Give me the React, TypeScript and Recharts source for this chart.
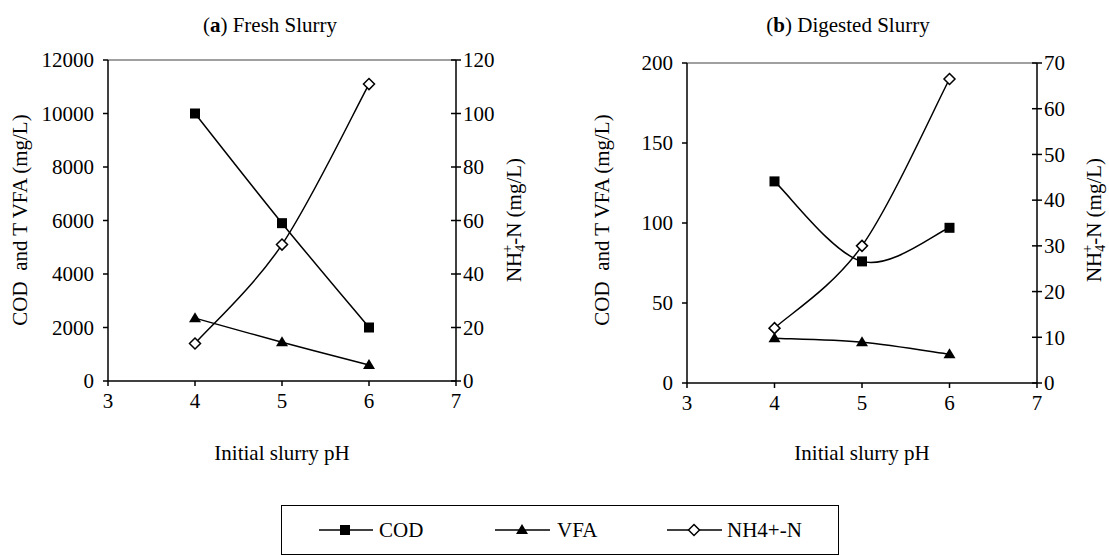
import React from "react"
import { LineChart, Line, XAxis, YAxis, ReferenceLine } from "recharts"

// initial slurry pH (x values)
const phValues = [4, 5, 6]
const phTicks = [3, 4, 5, 6, 7]

// (a) fresh slurry
const freshCod = [10000, 5900, 2000]
const freshVfa = [2350, 1450, 600]
const freshNh4 = [14, 51, 111]
const freshLeftTicks = [0, 2000, 4000, 6000, 8000, 10000, 12000]
const freshRightTicks = [0, 20, 40, 60, 80, 100, 120]

// (b) digested slurry
const digestedCod = [126, 76, 97]
const digestedVfa = [28, 25.5, 18]
const digestedNh4 = [12, 30, 66.5]
const digestedLeftTicks = [0, 50, 100, 150, 200]
const digestedRightTicks = [0, 10, 20, 30, 40, 50, 60, 70]

const freshData = phValues.map((ph, i) => ({ ph, cod: freshCod[i], vfa: freshVfa[i], nh4: freshNh4[i] }))
const digestedData = phValues.map((ph, i) => ({ ph, cod: digestedCod[i], vfa: digestedVfa[i], nh4: digestedNh4[i] }))

const FONT = "Liberation Serif, DejaVu Serif, serif"
const tickStyle = { fill: "#000", fontSize: 21, fontFamily: FONT }

// excel-like smoothed line (catmull-rom style bezier)
function excelSmooth(context: any) {
  let pts: number[][] = []
  return {
    areaStart() {},
    areaEnd() {},
    lineStart() {
      pts = []
    },
    point(x: number, y: number) {
      pts.push([+x, +y])
    },
    lineEnd() {
      const n = pts.length
      if (!n) return
      context.moveTo(pts[0][0], pts[0][1])
      for (let i = 0; i < n - 1; i++) {
        const p0 = pts[Math.max(i - 1, 0)]
        const p1 = pts[i]
        const p2 = pts[i + 1]
        const p3 = pts[Math.min(i + 2, n - 1)]
        context.bezierCurveTo(
          p1[0] + (p2[0] - p0[0]) / 6,
          p1[1] + (p2[1] - p0[1]) / 6,
          p2[0] - (p3[0] - p1[0]) / 6,
          p2[1] - (p3[1] - p1[1]) / 6,
          p2[0],
          p2[1]
        )
      }
    },
  }
}

const SquareDot = (p: any) =>
  p.cx == null ? null : <rect key={p.index} x={p.cx - 5} y={p.cy - 5} width={10} height={10} fill="#000" />

const TriangleDot = (p: any) =>
  p.cx == null ? null : (
    <path key={p.index} d={`M${p.cx},${p.cy - 6} L${p.cx + 6},${p.cy + 4} L${p.cx - 6},${p.cy + 4} Z`} fill="#000" />
  )

const DiamondDot = (p: any) =>
  p.cx == null ? null : (
    <path
      key={p.index}
      d={`M${p.cx},${p.cy - 5.5} L${p.cx + 5.5},${p.cy} L${p.cx},${p.cy + 5.5} L${p.cx - 5.5},${p.cy} Z`}
      fill="#fff"
      stroke="#000"
      strokeWidth={1.5}
    />
  )

// right axis ticks cross the axis line
const RightTick = (p: any) => (
  <g>
    <line x1={p.x - 12} x2={p.x - 7} y1={p.y} y2={p.y} stroke="#000" strokeWidth={1.5} />
    <text x={p.x} y={p.y} dy="0.35em" textAnchor="start" fill="#000" fontSize={21} fontFamily={FONT}>
      {p.payload.value}
    </text>
  </g>
)

function Panel(props: {
  data: any[]
  width: number
  top: number
  leftW: number
  rightW: number
  bottom: number
  leftMax: number
  rightMax: number
  leftTicks: number[]
  rightTicks: number[]
}) {
  const { data, width, top, leftW, rightW, bottom, leftMax, rightMax, leftTicks, rightTicks } = props
  return (
    <LineChart width={width} height={440} data={data} margin={{ top, right: 0, bottom: 0, left: 0 }}>
      <XAxis
        dataKey="ph"
        type="number"
        domain={[3, 7]}
        ticks={phTicks}
        height={bottom}
        tick={tickStyle}
        tickSize={5}
        tickMargin={7}
        stroke="#000"
        strokeWidth={1.5}
      />
      <YAxis
        yAxisId="left"
        domain={[0, leftMax]}
        ticks={leftTicks}
        width={leftW}
        tick={tickStyle}
        tickSize={5}
        tickMargin={9}
        stroke="#000"
        strokeWidth={1.5}
        interval={0}
      />
      <YAxis
        yAxisId="right"
        orientation="right"
        domain={[0, rightMax]}
        ticks={rightTicks}
        width={rightW}
        tick={RightTick}
        tickSize={5}
        tickMargin={2}
        stroke="#000"
        strokeWidth={1.5}
        interval={0}
      />
      <ReferenceLine yAxisId="left" y={leftMax} stroke="#808080" strokeWidth={1.5} />
      <Line yAxisId="left" dataKey="cod" type={excelSmooth as any} stroke="#000" strokeWidth={1.5} dot={SquareDot} isAnimationActive={false} />
      <Line yAxisId="left" dataKey="vfa" type={excelSmooth as any} stroke="#000" strokeWidth={1.5} dot={TriangleDot} isAnimationActive={false} />
      <Line yAxisId="right" dataKey="nh4" type={excelSmooth as any} stroke="#000" strokeWidth={1.5} dot={DiamondDot} isAnimationActive={false} />
    </LineChart>
  )
}

const abs = (left: number, top: number, rotate = false): React.CSSProperties => ({
  position: "absolute",
  left,
  top,
  transform: `translate(-50%, -50%)${rotate ? " rotate(-90deg)" : ""}`,
  whiteSpace: "pre",
  fontSize: 21,
  lineHeight: "24px",
  color: "#000",
})

const Nh4Title = () => (
  <>
    NH<sub style={{ fontSize: 14, verticalAlign: "-4px" }}>4</sub>
    <sup style={{ fontSize: 14, verticalAlign: "9px", marginLeft: -8 }}>+</sup>-N (mg/L)
  </>
)

export default function App() {
  return (
    <div style={{ position: "absolute", left: 0, top: 0, width: 1109, height: 556, background: "#fff", fontFamily: FONT }}>
      <div style={{ position: "absolute", left: 0, top: 0 }}>
        <Panel
          data={freshData}
          width={555}
          top={60}
          leftW={108}
          rightW={99}
          bottom={59}
          leftMax={12000}
          rightMax={120}
          leftTicks={freshLeftTicks}
          rightTicks={freshRightTicks}
        />
      </div>
      <div style={{ position: "absolute", left: 555, top: 0 }}>
        <Panel
          data={digestedData}
          width={554}
          top={63}
          leftW={132}
          rightW={72}
          bottom={57}
          leftMax={200}
          rightMax={70}
          leftTicks={digestedLeftTicks}
          rightTicks={digestedRightTicks}
        />
      </div>

      <div style={abs(270, 25)}>
        (<b>a</b>) Fresh Slurry
      </div>
      <div style={abs(848, 25)}>
        (<b>b</b>) Digested Slurry
      </div>

      <div style={abs(20, 220, true)}>COD  and T VFA (mg/L)</div>
      <div style={abs(514, 220, true)}>
        <Nh4Title />
      </div>
      <div style={abs(602, 220, true)}>COD  and T VFA (mg/L)</div>
      <div style={abs(1094, 220, true)}>
        <Nh4Title />
      </div>

      <div style={abs(282, 453)}>Initial slurry pH</div>
      <div style={abs(862, 453)}>Initial slurry pH</div>

      <div
        style={{
          position: "absolute",
          left: 281,
          top: 505,
          width: 558,
          height: 50,
          border: "1.5px solid #000",
          boxSizing: "border-box",
        }}
      >
        <svg width={555} height={47} style={{ position: "absolute", left: 0, top: 0 }}>
          <line x1={37} x2={91} y1={24} y2={24} stroke="#000" strokeWidth={1.5} />
          <SquareDot cx={63} cy={24} index={0} />
          <text x={97} y={24} dy="0.35em" fontSize={21} fontFamily={FONT} fill="#000">COD</text>
          <line x1={213} x2={268} y1={24} y2={24} stroke="#000" strokeWidth={1.5} />
          <TriangleDot cx={240} cy={24} index={1} />
          <text x={275} y={24} dy="0.35em" fontSize={21} fontFamily={FONT} fill="#000">VFA</text>
          <line x1={385} x2={440} y1={24} y2={24} stroke="#000" strokeWidth={1.5} />
          <DiamondDot cx={412} cy={24} index={2} />
          <text x={445} y={24} dy="0.35em" fontSize={21} fontFamily={FONT} fill="#000">NH4+-N</text>
        </svg>
      </div>
    </div>
  )
}
